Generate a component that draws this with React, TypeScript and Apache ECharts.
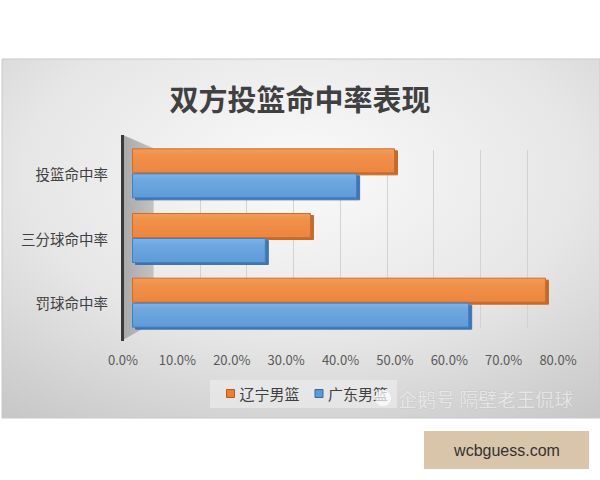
import React, { useEffect, useRef } from "react";
import * as echarts from "echarts";

const categories = ["投篮命中率", "三分球命中率", "罚球命中率"];
const seriesNames = ["辽宁男篮", "广东男篮"];
const liaoning = [0.507, 0.345, 0.798];
const guangdong = [0.434, 0.258, 0.65];
const tickMax = 0.8;
const tickStep = 0.1;

export default function App() {
  const ref = useRef<HTMLDivElement>(null);
  useEffect(() => {
    const chart = echarts.init(ref.current!, null, { renderer: "svg" });
    const font = "'Noto Sans CJK SC', 'Noto Sans', sans-serif";
    const orangeFill = new echarts.graphic.LinearGradient(0, 0, 0, 1, [
      { offset: 0, color: "#F29D5C" },
      { offset: 0.25, color: "#F0914A" },
      { offset: 1, color: "#EC8640" },
    ]);
    const blueFill = new echarts.graphic.LinearGradient(0, 0, 0, 1, [
      { offset: 0, color: "#7FB3E6" },
      { offset: 0.25, color: "#6EA8E0" },
      { offset: 1, color: "#5E9BD8" },
    ]);
    chart.setOption({
      animation: false,
      textStyle: { fontFamily: font },
      title: {
        text: "双方投篮命中率表现",
        left: "center",
        top: 78,
        textStyle: { fontSize: 29, fontWeight: "bold", color: "#404040", fontFamily: font },
      },
      legend: {
        left: 210,
        top: 380,
        padding: [6, 9, 7, 16],
        backgroundColor: "rgba(238,238,238,0.6)",
        itemWidth: 8,
        itemHeight: 8,
        itemGap: 15,
        icon: "rect",
        textStyle: { fontSize: 15, color: "#404040", fontFamily: font },
        data: [
          { name: seriesNames[0], itemStyle: { color: "#ED7D31", borderColor: "#B85A18", borderWidth: 1 } },
          { name: seriesNames[1], itemStyle: { color: "#5B9BD5", borderColor: "#2E6AA8", borderWidth: 1 } },
        ],
      },
      grid: [
        { left: 153, width: 374, top: 150, height: 178 },
        { left: 132, width: 415, top: 141, height: 194 },
        { left: 123, width: 435, top: 340, height: 1 },
      ],
      xAxis: [
        {
          gridIndex: 0, type: "value", min: 0, max: tickMax, interval: tickStep,
          axisLabel: { show: false }, axisLine: { show: false }, axisTick: { show: false },
          splitLine: { show: true, lineStyle: { color: "#d2d2d2", width: 1 } },
        },
        { gridIndex: 1, type: "value", min: 0, max: tickMax, interval: tickStep, show: false },
        {
          gridIndex: 2, type: "value", min: 0, max: tickMax, interval: tickStep,
          axisLabel: {
            formatter: (v: number) => (v * 100).toFixed(1) + "%",
            fontSize: 13, color: "#595959", margin: 12, fontFamily: font,
          },
          axisLine: { show: false }, axisTick: { show: false }, splitLine: { show: false },
        },
      ],
      yAxis: [
        { gridIndex: 0, type: "category", data: categories, show: false },
        {
          gridIndex: 1, type: "category", data: categories, inverse: true,
          axisLine: { show: false }, axisTick: { show: false },
          axisLabel: { fontSize: 14.5, color: "#404040", margin: 24, fontFamily: font },
        },
        { gridIndex: 2, type: "category", data: [""], show: false },
      ],
      series: [
        {
          name: seriesNames[0], type: "bar", xAxisIndex: 1, yAxisIndex: 1,
          data: liaoning, barWidth: 25, barGap: "0%",
          itemStyle: {
            color: orangeFill, borderColor: "#D06C26", borderWidth: 1,
            shadowColor: "rgba(196,98,30,0.95)", shadowOffsetX: 3, shadowOffsetY: 2, shadowBlur: 0,
          },
          z: 3,
        },
        {
          name: seriesNames[1], type: "bar", xAxisIndex: 1, yAxisIndex: 1,
          data: guangdong, barWidth: 25, barGap: "0%",
          itemStyle: {
            color: blueFill, borderColor: "#3F80C4", borderWidth: 1,
            shadowColor: "rgba(52,110,175,0.95)", shadowOffsetX: 3, shadowOffsetY: 2, shadowBlur: 0,
          },
          z: 3,
        },
      ],
      graphic: [
        {
          type: "rect", z: -10, silent: true,
          shape: { x: 2, y: 59, width: 598, height: 359 },
          style: {
            fill: new echarts.graphic.RadialGradient(0.5, 0.32, 0.85, [
              { offset: 0, color: "#fafafa" },
              { offset: 0.55, color: "#e6e6e6" },
              { offset: 1, color: "#c6c6c6" },
            ]),
            stroke: "#c8c8c8", lineWidth: 1,
          },
        },
        {
          type: "polygon", z: 1, silent: true,
          shape: { points: [[123, 135], [153, 148], [153, 323], [123, 340]] },
          style: {
            fill: new echarts.graphic.LinearGradient(0, 0, 1, 0, [
              { offset: 0, color: "#a9a9a9" },
              { offset: 1, color: "#c2c2c2" },
            ]),
          },
        },
        {
          type: "rect", z: 1, silent: true,
          shape: { x: 121, y: 135, width: 3, height: 206 },
          style: { fill: "#3a3a3a" },
        },
        {
          type: "circle", z: 100, silent: true,
          shape: { cx: 383, cy: 398, r: 8 },
          style: { fill: "rgba(255,255,255,0.7)" },
        },
        {
          type: "text", z: 100, silent: true, x: 398, y: 398,
          style: {
            text: "企鹅号 隔壁老王侃球", fontSize: 19, fontFamily: font,
            fill: "rgba(255,255,255,0.55)", stroke: "rgba(170,170,170,0.3)", lineWidth: 1,
            verticalAlign: "middle", align: "left",
          },
        },
        {
          type: "rect", z: 10, silent: true,
          shape: { x: 424, y: 431, width: 165, height: 38 },
          style: { fill: "#d8c5aa" },
        },
        {
          type: "text", z: 11, silent: true, x: 507, y: 450,
          style: {
            text: "wcbguess.com", fontSize: 16, fontFamily: "'Liberation Sans', Arial, sans-serif",
            fill: "#333333", align: "center", verticalAlign: "middle",
          },
        },
      ],
    });
    return () => chart.dispose();
  }, []);
  return (
    <div
      ref={ref}
      style={{ position: "fixed", left: 0, top: 0, width: 600, height: 480, background: "#ffffff" }}
    />
  );
}
